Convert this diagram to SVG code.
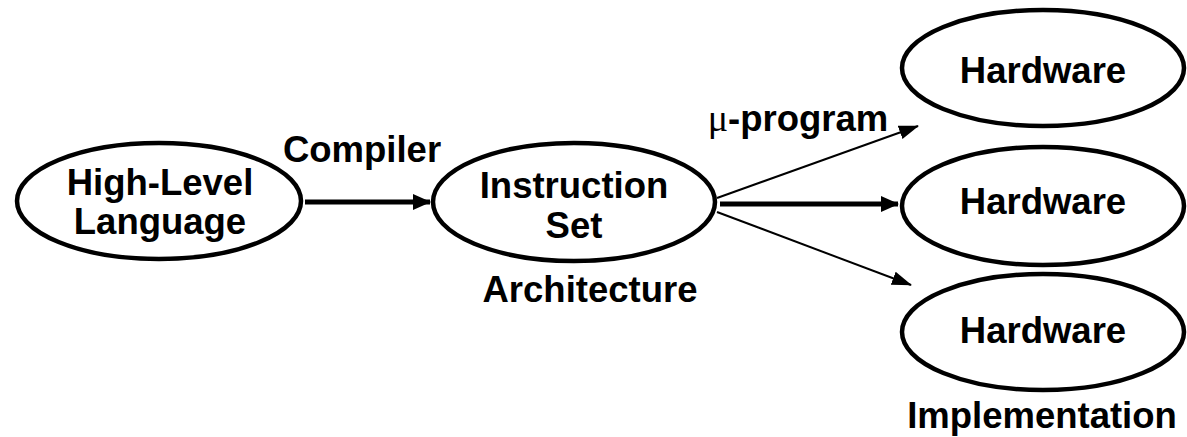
<svg xmlns="http://www.w3.org/2000/svg" width="1187" height="437" viewBox="0 0 1187 437">
<style>
.node{fill:#fff;stroke:#000;stroke-width:4.5}
.t{font-family:"Liberation Sans",Arial,sans-serif;font-weight:bold;font-size:36.5px;fill:#000;text-anchor:middle}
.thin{stroke:#000;stroke-width:2;fill:none}
.thick{stroke:#000;stroke-width:5;fill:none}
</style>
<defs>
<marker id="ah" markerUnits="userSpaceOnUse" markerWidth="18" markerHeight="18" refX="17" refY="9" orient="auto" viewBox="0 0 18 18">
<path d="M0,1 L18,9 L0,17 z" fill="#000"/>
</marker>
<marker id="ahs" markerUnits="userSpaceOnUse" markerWidth="20" markerHeight="16" refX="19" refY="8" orient="auto" viewBox="0 0 20 16">
<path d="M0,1 L20,8 L0,15 z" fill="#000"/>
</marker>
</defs>
<g id="connectors">
<line class="thick" x1="305" y1="202" x2="430" y2="202" marker-end="url(#ah)"/>
<line class="thin" x1="717" y1="198" x2="918" y2="126" marker-end="url(#ahs)"/>
<line class="thick" x1="720" y1="204" x2="898" y2="204" marker-end="url(#ah)"/>
<line class="thin" x1="717" y1="212" x2="911" y2="285" marker-end="url(#ahs)"/>
</g>
<g id="hll">
<ellipse class="node" cx="159" cy="201" rx="142" ry="58"/>
<text class="t" x="160" y="195">High-Level</text>
<text class="t" x="160" y="234">Language</text>
</g>
<g id="isa">
<ellipse class="node" cx="574" cy="202" rx="141" ry="59"/>
<text class="t" x="574" y="198">Instruction</text>
<text class="t" x="574" y="238">Set</text>
</g>
<g id="hw1">
<ellipse class="node" cx="1043" cy="68" rx="141" ry="58"/>
<text class="t" x="1043" y="83">Hardware</text>
</g>
<g id="hw2">
<ellipse class="node" cx="1043" cy="206" rx="141" ry="59"/>
<text class="t" x="1043" y="214">Hardware</text>
</g>
<g id="hw3">
<ellipse class="node" cx="1043" cy="332" rx="141" ry="58"/>
<text class="t" x="1043" y="343">Hardware</text>
</g>
<g id="labels">
<text class="t" x="362" y="162">Compiler</text>
<text class="t" x="590" y="302">Architecture</text>
<text class="t" x="798" y="131"><tspan font-weight="normal" font-size="38px" font-family="Liberation Serif, serif">μ</tspan>-program</text>
<text class="t" x="1042" y="428">Implementation</text>
</g>
</svg>
